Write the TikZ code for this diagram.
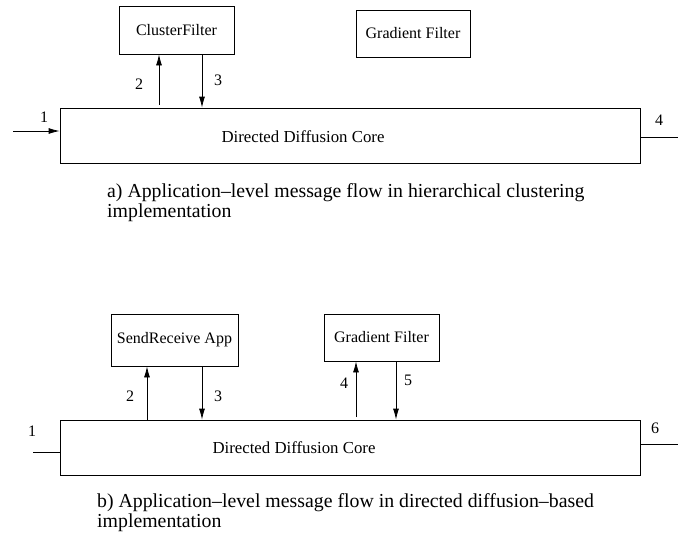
\documentclass[tikz,border=0pt]{standalone}
\usepackage{fontspec}
\setmainfont{Liberation Serif}
\usetikzlibrary{arrows.meta}
\begin{document}
\begin{tikzpicture}[x=1pt,y=-1pt,
  every node/.style={font=\fontsize{16}{18}\selectfont, inner sep=0pt},
  box/.style={draw, line width=0.8pt},
  coretext/.style={font=\fontsize{16.8}{18}\selectfont},
  caption/.style={anchor=west, align=left, font=\fontsize{19.8}{20}\selectfont},
  arr/.style={line width=0.8pt, -{Latex[length=11pt,width=6pt]}},
  wire/.style={line width=0.8pt}]
\useasboundingbox (0,0) rectangle (678,539);

% ---- a) hierarchical clustering ----
\node[box, minimum width=115, minimum height=48] (cf) at (176.5,30) {ClusterFilter};
\node[box, minimum width=114, minimum height=47] (gfa) at (413,33.5) {Gradient Filter};
\node[box, minimum width=580, minimum height=55] (corea) at (350,135.5) {};
\node[coretext] (ta) at (303,137) {Directed Diffusion Core};

\coordinate (ina) at (13,131);
\coordinate (outa) at (678,137);
\coordinate (upa) at (159,105);
\coordinate (dna) at (202,0);
\draw[arr] (ina) -- (ina -| corea.west);
\draw[wire] (outa -| corea.east) -- (outa);
\draw[arr] (upa) -- (upa |- cf.south);
\draw[arr] (dna |- cf.south) -- (dna |- corea.north);

\node (la1) at (44,117) {1};
\node (la2) at (139,84) {2};
\node (la3) at (218,80) {3};
\node (la4) at (659,120) {4};

\node[caption] (capa) at (107,203)
  {a) Application–level message flow in hierarchical clustering\\implementation};

% ---- b) directed diffusion-based ----
\node[box, minimum width=127, minimum height=52] (sr) at (174.5,340) {SendReceive App};
\node[box, minimum width=115, minimum height=47] (gfb) at (381.5,337.5) {Gradient Filter};
\node[box, minimum width=580, minimum height=55] (coreb) at (350,447.5) {};
\node[coretext] (tb) at (294,448) {Directed Diffusion Core};

\coordinate (inb) at (33,452);
\coordinate (outb) at (678,444);
\coordinate (upb) at (147,0);
\coordinate (dnb) at (202,0);
\coordinate (upc) at (356,417);
\coordinate (dnc) at (396,0);
\draw[wire] (inb) -- (inb -| coreb.west);
\draw[wire] (outb -| coreb.east) -- (outb);
\draw[arr] (upb |- coreb.north) -- (upb |- sr.south);
\draw[arr] (dnb |- sr.south) -- (dnb |- coreb.north);
\draw[arr] (upc) -- (upc |- gfb.south);
\draw[arr] (dnc |- gfb.south) -- (dnc |- coreb.north);

\node (lb1) at (32,431) {1};
\node (lb2) at (130,396) {2};
\node (lb3) at (218,396) {3};
\node (lb4) at (344,383) {4};
\node (lb5) at (408,380) {5};
\node (lb6) at (655,428) {6};

\node[caption] (capb) at (97,513)
  {b) Application–level message flow in directed diffusion–based\\implementation};
\end{tikzpicture}
\end{document}
